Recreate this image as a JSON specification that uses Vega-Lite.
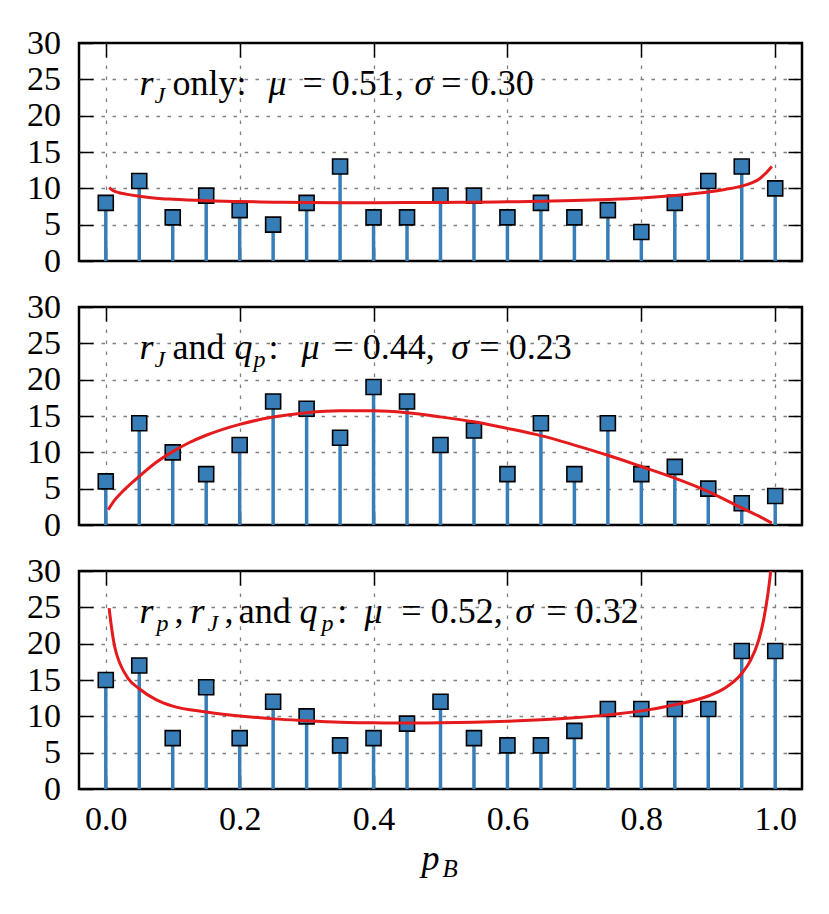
{
  "$schema": "https://vega.github.io/schema/vega-lite/v6.json",
  "background": "white",
  "padding": {"left": 25, "top": 24, "right": 5, "bottom": 5},
  "bounds": "flush",
  "spacing": 46,
  "datasets": {
    "s1": [
      {"pB": 0.0, "n": 8}, {"pB": 0.05, "n": 11}, {"pB": 0.1, "n": 6}, {"pB": 0.15, "n": 9},
      {"pB": 0.2, "n": 7}, {"pB": 0.25, "n": 5}, {"pB": 0.3, "n": 8}, {"pB": 0.35, "n": 13},
      {"pB": 0.4, "n": 6}, {"pB": 0.45, "n": 6}, {"pB": 0.5, "n": 9}, {"pB": 0.55, "n": 9},
      {"pB": 0.6, "n": 6}, {"pB": 0.65, "n": 8}, {"pB": 0.7, "n": 6}, {"pB": 0.75, "n": 7},
      {"pB": 0.8, "n": 4}, {"pB": 0.85, "n": 8}, {"pB": 0.9, "n": 11}, {"pB": 0.95, "n": 13},
      {"pB": 1.0, "n": 10}
    ],
    "s2": [
      {"pB": 0.0, "n": 6}, {"pB": 0.05, "n": 14}, {"pB": 0.1, "n": 10}, {"pB": 0.15, "n": 7},
      {"pB": 0.2, "n": 11}, {"pB": 0.25, "n": 17}, {"pB": 0.3, "n": 16}, {"pB": 0.35, "n": 12},
      {"pB": 0.4, "n": 19}, {"pB": 0.45, "n": 17}, {"pB": 0.5, "n": 11}, {"pB": 0.55, "n": 13},
      {"pB": 0.6, "n": 7}, {"pB": 0.65, "n": 14}, {"pB": 0.7, "n": 7}, {"pB": 0.75, "n": 14},
      {"pB": 0.8, "n": 7}, {"pB": 0.85, "n": 8}, {"pB": 0.9, "n": 5}, {"pB": 0.95, "n": 3},
      {"pB": 1.0, "n": 4}
    ],
    "s3": [
      {"pB": 0.0, "n": 15}, {"pB": 0.05, "n": 17}, {"pB": 0.1, "n": 7}, {"pB": 0.15, "n": 14},
      {"pB": 0.2, "n": 7}, {"pB": 0.25, "n": 12}, {"pB": 0.3, "n": 10}, {"pB": 0.35, "n": 6},
      {"pB": 0.4, "n": 7}, {"pB": 0.45, "n": 9}, {"pB": 0.5, "n": 12}, {"pB": 0.55, "n": 7},
      {"pB": 0.6, "n": 6}, {"pB": 0.65, "n": 6}, {"pB": 0.7, "n": 8}, {"pB": 0.75, "n": 11},
      {"pB": 0.8, "n": 11}, {"pB": 0.85, "n": 11}, {"pB": 0.9, "n": 11}, {"pB": 0.95, "n": 19},
      {"pB": 1.0, "n": 19}
    ],
    "c1": [
      {"pB": 0.005, "d": 10.1}, {"pB": 0.01, "d": 9.75}, {"pB": 0.02, "d": 9.4}, {"pB": 0.03, "d": 9.2},
      {"pB": 0.05, "d": 8.9}, {"pB": 0.075, "d": 8.65}, {"pB": 0.1, "d": 8.5}, {"pB": 0.15, "d": 8.3},
      {"pB": 0.2, "d": 8.18}, {"pB": 0.25, "d": 8.1}, {"pB": 0.3, "d": 8.05}, {"pB": 0.35, "d": 8.03},
      {"pB": 0.4, "d": 8.03}, {"pB": 0.45, "d": 8.04}, {"pB": 0.5, "d": 8.06}, {"pB": 0.55, "d": 8.1},
      {"pB": 0.6, "d": 8.15}, {"pB": 0.65, "d": 8.22}, {"pB": 0.7, "d": 8.32}, {"pB": 0.75, "d": 8.47},
      {"pB": 0.8, "d": 8.68}, {"pB": 0.85, "d": 9.02}, {"pB": 0.9, "d": 9.5}, {"pB": 0.925, "d": 9.85},
      {"pB": 0.95, "d": 10.3}, {"pB": 0.965, "d": 10.75}, {"pB": 0.975, "d": 11.2}, {"pB": 0.985, "d": 12.0},
      {"pB": 0.99, "d": 12.5}, {"pB": 0.995, "d": 13.0}
    ],
    "c2": [
      {"pB": 0.0036, "d": 2.1}, {"pB": 0.0135, "d": 3.45}, {"pB": 0.025, "d": 4.6}, {"pB": 0.05, "d": 6.7},
      {"pB": 0.075, "d": 8.6}, {"pB": 0.1, "d": 10.1}, {"pB": 0.125, "d": 11.35}, {"pB": 0.15, "d": 12.35},
      {"pB": 0.2, "d": 13.85}, {"pB": 0.25, "d": 14.85}, {"pB": 0.3, "d": 15.45}, {"pB": 0.35, "d": 15.72},
      {"pB": 0.4, "d": 15.72}, {"pB": 0.45, "d": 15.45}, {"pB": 0.5, "d": 14.88}, {"pB": 0.55, "d": 14.2},
      {"pB": 0.6, "d": 13.3}, {"pB": 0.65, "d": 12.3}, {"pB": 0.7, "d": 11.0}, {"pB": 0.75, "d": 9.6},
      {"pB": 0.8, "d": 8.05}, {"pB": 0.85, "d": 6.45}, {"pB": 0.9, "d": 4.6}, {"pB": 0.95, "d": 2.35},
      {"pB": 0.975, "d": 1.25}, {"pB": 0.995, "d": 0.25}
    ],
    "c3": [
      {"pB": 0.005, "d": 24.9}, {"pB": 0.0085, "d": 22.3}, {"pB": 0.0135, "d": 19.5}, {"pB": 0.021, "d": 17.3},
      {"pB": 0.0335, "d": 15.2}, {"pB": 0.05, "d": 13.8}, {"pB": 0.075, "d": 12.3}, {"pB": 0.1, "d": 11.4},
      {"pB": 0.15, "d": 10.6}, {"pB": 0.2, "d": 10.05}, {"pB": 0.25, "d": 9.65}, {"pB": 0.3, "d": 9.4},
      {"pB": 0.35, "d": 9.2}, {"pB": 0.4, "d": 9.1}, {"pB": 0.45, "d": 9.08}, {"pB": 0.5, "d": 9.1},
      {"pB": 0.55, "d": 9.18}, {"pB": 0.6, "d": 9.32}, {"pB": 0.65, "d": 9.52}, {"pB": 0.7, "d": 9.8},
      {"pB": 0.75, "d": 10.2}, {"pB": 0.8, "d": 10.75}, {"pB": 0.85, "d": 11.6}, {"pB": 0.9, "d": 12.8},
      {"pB": 0.925, "d": 13.9}, {"pB": 0.95, "d": 15.9}, {"pB": 0.9625, "d": 17.6}, {"pB": 0.975, "d": 20.4},
      {"pB": 0.9825, "d": 23.2}, {"pB": 0.989, "d": 26.8}, {"pB": 0.993, "d": 29.8}, {"pB": 0.996, "d": 33}
    ]
  },
  "vconcat": [
    {
      "width": 723,
      "height": 218,
      "layer": [
        {
          "data": {"name": "s1"},
          "mark": {"type": "rule", "color": "#377eb8", "strokeWidth": 3.5},
          "encoding": {
            "x": {"field": "pB", "type": "quantitative", "scale": {"domain": [-0.04, 1.04], "nice": false, "zero": false},
                  "axis": {"orient": "bottom", "values": [0, 0.2, 0.4, 0.6, 0.8, 1], "labels": false, "title": null, "grid": true}},
            "y": {"field": "n", "type": "quantitative", "scale": {"domain": [0, 30], "nice": false},
                  "axis": {"orient": "left", "values": [0, 5, 10, 15, 20, 25, 30], "title": null, "grid": true,
                           "gridOpacity": {"condition": {"test": "datum.value == 0 || datum.value == 30", "value": 0}, "value": 1}}},
            "y2": {"datum": 0}
          }
        },
        {
          "data": {"name": "s1"},
          "mark": {"type": "point", "shape": "square", "size": 225, "filled": true, "color": "#377eb8", "stroke": "black", "strokeWidth": 1.6, "opacity": 1},
          "encoding": {
            "x": {"field": "pB", "type": "quantitative", "axis": null},
            "y": {"field": "n", "type": "quantitative", "axis": null}
          }
        },
        {
          "data": {"name": "c1"},
          "mark": {"type": "line", "color": "#e41a1c", "strokeWidth": 3, "interpolate": "monotone", "clip": true},
          "encoding": {
            "x": {"field": "pB", "type": "quantitative", "axis": {"orient": "top", "values": [0, 0.2, 0.4, 0.6, 0.8, 1], "labels": false, "title": null, "grid": false}},
            "y": {"field": "d", "type": "quantitative", "axis": {"orient": "right", "values": [0, 5, 10, 15, 20, 25, 30], "labels": false, "title": null, "grid": false}}
          }
        },
        {"data": {"values": [{}]}, "mark": {"type": "text", "style": "it"}, "encoding": {"x": {"datum": 0.0503, "axis": null}, "y": {"datum": 22.8, "axis": null}, "text": {"value": "r"}}},
        {"data": {"values": [{}]}, "mark": {"type": "text", "style": "sub"}, "encoding": {"x": {"datum": 0.0727, "axis": null}, "y": {"datum": 21.8, "axis": null}, "text": {"value": "J"}}},
        {"data": {"values": [{}]}, "mark": {"type": "text", "style": "rm"}, "encoding": {"x": {"datum": 0.0996, "axis": null}, "y": {"datum": 22.8, "axis": null}, "text": {"value": "only:"}}},
        {"data": {"values": [{}]}, "mark": {"type": "text", "style": "it"}, "encoding": {"x": {"datum": 0.2429, "axis": null}, "y": {"datum": 22.8, "axis": null}, "text": {"value": "μ"}}},
        {"data": {"values": [{}]}, "mark": {"type": "text", "style": "rm"}, "encoding": {"x": {"datum": 0.2937, "axis": null}, "y": {"datum": 22.8, "axis": null}, "text": {"value": "= 0.51,"}}},
        {"data": {"values": [{}]}, "mark": {"type": "text", "style": "it"}, "encoding": {"x": {"datum": 0.461, "axis": null}, "y": {"datum": 22.8, "axis": null}, "text": {"value": "σ"}}},
        {"data": {"values": [{}]}, "mark": {"type": "text", "style": "rm"}, "encoding": {"x": {"datum": 0.5013, "axis": null}, "y": {"datum": 22.8, "axis": null}, "text": {"value": "= 0.30"}}}
      ]
    },
    {
      "width": 723,
      "height": 218,
      "layer": [
        {
          "data": {"name": "s2"},
          "mark": {"type": "rule", "color": "#377eb8", "strokeWidth": 3.5},
          "encoding": {
            "x": {"field": "pB", "type": "quantitative", "scale": {"domain": [-0.04, 1.04], "nice": false, "zero": false},
                  "axis": {"orient": "bottom", "values": [0, 0.2, 0.4, 0.6, 0.8, 1], "labels": false, "title": null, "grid": true}},
            "y": {"field": "n", "type": "quantitative", "scale": {"domain": [0, 30], "nice": false},
                  "axis": {"orient": "left", "values": [0, 5, 10, 15, 20, 25, 30], "title": null, "grid": true,
                           "gridOpacity": {"condition": {"test": "datum.value == 0 || datum.value == 30", "value": 0}, "value": 1}}},
            "y2": {"datum": 0}
          }
        },
        {
          "data": {"name": "s2"},
          "mark": {"type": "point", "shape": "square", "size": 225, "filled": true, "color": "#377eb8", "stroke": "black", "strokeWidth": 1.6, "opacity": 1},
          "encoding": {
            "x": {"field": "pB", "type": "quantitative", "axis": null},
            "y": {"field": "n", "type": "quantitative", "axis": null}
          }
        },
        {
          "data": {"name": "c2"},
          "mark": {"type": "line", "color": "#e41a1c", "strokeWidth": 3, "interpolate": "monotone", "clip": true},
          "encoding": {
            "x": {"field": "pB", "type": "quantitative", "axis": {"orient": "top", "values": [0, 0.2, 0.4, 0.6, 0.8, 1], "labels": false, "title": null, "grid": false}},
            "y": {"field": "d", "type": "quantitative", "axis": {"orient": "right", "values": [0, 5, 10, 15, 20, 25, 30], "labels": false, "title": null, "grid": false}}
          }
        },
        {"data": {"values": [{}]}, "mark": {"type": "text", "style": "it"}, "encoding": {"x": {"datum": 0.0503, "axis": null}, "y": {"datum": 22.8, "axis": null}, "text": {"value": "r"}}},
        {"data": {"values": [{}]}, "mark": {"type": "text", "style": "sub"}, "encoding": {"x": {"datum": 0.0727, "axis": null}, "y": {"datum": 21.8, "axis": null}, "text": {"value": "J"}}},
        {"data": {"values": [{}]}, "mark": {"type": "text", "style": "rm"}, "encoding": {"x": {"datum": 0.0996, "axis": null}, "y": {"datum": 22.8, "axis": null}, "text": {"value": "and"}}},
        {"data": {"values": [{}]}, "mark": {"type": "text", "style": "it"}, "encoding": {"x": {"datum": 0.1922, "axis": null}, "y": {"datum": 22.8, "axis": null}, "text": {"value": "q"}}},
        {"data": {"values": [{}]}, "mark": {"type": "text", "style": "sub"}, "encoding": {"x": {"datum": 0.2205, "axis": null}, "y": {"datum": 21.8, "axis": null}, "text": {"value": "p"}}},
        {"data": {"values": [{}]}, "mark": {"type": "text", "style": "rm"}, "encoding": {"x": {"datum": 0.2429, "axis": null}, "y": {"datum": 22.8, "axis": null}, "text": {"value": ":"}}},
        {"data": {"values": [{}]}, "mark": {"type": "text", "style": "it"}, "encoding": {"x": {"datum": 0.2922, "axis": null}, "y": {"datum": 22.8, "axis": null}, "text": {"value": "μ"}}},
        {"data": {"values": [{}]}, "mark": {"type": "text", "style": "rm"}, "encoding": {"x": {"datum": 0.34, "axis": null}, "y": {"datum": 22.8, "axis": null}, "text": {"value": "= 0.44,"}}},
        {"data": {"values": [{}]}, "mark": {"type": "text", "style": "it"}, "encoding": {"x": {"datum": 0.5162, "axis": null}, "y": {"datum": 22.8, "axis": null}, "text": {"value": "σ"}}},
        {"data": {"values": [{}]}, "mark": {"type": "text", "style": "rm"}, "encoding": {"x": {"datum": 0.558, "axis": null}, "y": {"datum": 22.8, "axis": null}, "text": {"value": "= 0.23"}}}
      ]
    },
    {
      "width": 723,
      "height": 218,
      "layer": [
        {
          "data": {"name": "s3"},
          "mark": {"type": "rule", "color": "#377eb8", "strokeWidth": 3.5},
          "encoding": {
            "x": {"field": "pB", "type": "quantitative", "scale": {"domain": [-0.04, 1.04], "nice": false, "zero": false},
                  "axis": {"orient": "bottom", "values": [0, 0.2, 0.4, 0.6, 0.8, 1], "format": ".1f", "title": null, "grid": true}},
            "y": {"field": "n", "type": "quantitative", "scale": {"domain": [0, 30], "nice": false},
                  "axis": {"orient": "left", "values": [0, 5, 10, 15, 20, 25, 30], "title": null, "grid": true,
                           "gridOpacity": {"condition": {"test": "datum.value == 0 || datum.value == 30", "value": 0}, "value": 1}}},
            "y2": {"datum": 0}
          }
        },
        {
          "data": {"name": "s3"},
          "mark": {"type": "point", "shape": "square", "size": 225, "filled": true, "color": "#377eb8", "stroke": "black", "strokeWidth": 1.6, "opacity": 1},
          "encoding": {
            "x": {"field": "pB", "type": "quantitative", "axis": null},
            "y": {"field": "n", "type": "quantitative", "axis": null}
          }
        },
        {
          "data": {"name": "c3"},
          "mark": {"type": "line", "color": "#e41a1c", "strokeWidth": 3, "interpolate": "monotone", "clip": true},
          "encoding": {
            "x": {"field": "pB", "type": "quantitative", "axis": {"orient": "top", "values": [0, 0.2, 0.4, 0.6, 0.8, 1], "labels": false, "title": null, "grid": false}},
            "y": {"field": "d", "type": "quantitative", "axis": {"orient": "right", "values": [0, 5, 10, 15, 20, 25, 30], "labels": false, "title": null, "grid": false}}
          }
        },
        {"data": {"values": [{}]}, "mark": {"type": "text", "style": "it"}, "encoding": {"x": {"datum": 0.0503, "axis": null}, "y": {"datum": 22.8, "axis": null}, "text": {"value": "r"}}},
        {"data": {"values": [{}]}, "mark": {"type": "text", "style": "sub"}, "encoding": {"x": {"datum": 0.0757, "axis": null}, "y": {"datum": 21.8, "axis": null}, "text": {"value": "p"}}},
        {"data": {"values": [{}]}, "mark": {"type": "text", "style": "rm"}, "encoding": {"x": {"datum": 0.1026, "axis": null}, "y": {"datum": 22.8, "axis": null}, "text": {"value": ","}}},
        {"data": {"values": [{}]}, "mark": {"type": "text", "style": "it"}, "encoding": {"x": {"datum": 0.1265, "axis": null}, "y": {"datum": 22.8, "axis": null}, "text": {"value": "r"}}},
        {"data": {"values": [{}]}, "mark": {"type": "text", "style": "sub"}, "encoding": {"x": {"datum": 0.1519, "axis": null}, "y": {"datum": 21.8, "axis": null}, "text": {"value": "J"}}},
        {"data": {"values": [{}]}, "mark": {"type": "text", "style": "rm"}, "encoding": {"x": {"datum": 0.1773, "axis": null}, "y": {"datum": 22.8, "axis": null}, "text": {"value": ","}}},
        {"data": {"values": [{}]}, "mark": {"type": "text", "style": "rm"}, "encoding": {"x": {"datum": 0.1987, "axis": null}, "y": {"datum": 22.8, "axis": null}, "text": {"value": "and"}}},
        {"data": {"values": [{}]}, "mark": {"type": "text", "style": "it"}, "encoding": {"x": {"datum": 0.2892, "axis": null}, "y": {"datum": 22.8, "axis": null}, "text": {"value": "q"}}},
        {"data": {"values": [{}]}, "mark": {"type": "text", "style": "sub"}, "encoding": {"x": {"datum": 0.3221, "axis": null}, "y": {"datum": 21.8, "axis": null}, "text": {"value": "p"}}},
        {"data": {"values": [{}]}, "mark": {"type": "text", "style": "rm"}, "encoding": {"x": {"datum": 0.3459, "axis": null}, "y": {"datum": 22.8, "axis": null}, "text": {"value": ":"}}},
        {"data": {"values": [{}]}, "mark": {"type": "text", "style": "it"}, "encoding": {"x": {"datum": 0.3863, "axis": null}, "y": {"datum": 22.8, "axis": null}, "text": {"value": "μ"}}},
        {"data": {"values": [{}]}, "mark": {"type": "text", "style": "rm"}, "encoding": {"x": {"datum": 0.4415, "axis": null}, "y": {"datum": 22.8, "axis": null}, "text": {"value": "= 0.52,"}}},
        {"data": {"values": [{}]}, "mark": {"type": "text", "style": "it"}, "encoding": {"x": {"datum": 0.6118, "axis": null}, "y": {"datum": 22.8, "axis": null}, "text": {"value": "σ"}}},
        {"data": {"values": [{}]}, "mark": {"type": "text", "style": "rm"}, "encoding": {"x": {"datum": 0.6581, "axis": null}, "y": {"datum": 22.8, "axis": null}, "text": {"value": "= 0.32"}}},
        {"data": {"values": [{}]}, "mark": {"type": "text", "style": "xt"}, "encoding": {"x": {"datum": 0.4715, "axis": null}, "y": {"datum": -11.2, "axis": null}, "text": {"value": "p"}}},
        {"data": {"values": [{}]}, "mark": {"type": "text", "style": "xs"}, "encoding": {"x": {"datum": 0.503, "axis": null}, "y": {"datum": -12.1, "axis": null}, "text": {"value": "B"}}}
      ]
    }
  ],
  "config": {
    "view": {"stroke": "black", "strokeWidth": 2.5},
    "axis": {
      "domain": false,
      "labelFont": "Liberation Serif",
      "labelFontSize": 34,
      "labelColor": "black",
      "tickColor": "black",
      "tickWidth": 1.5,
      "tickSize": -14,
      "gridColor": "#808080",
      "gridDash": [3.5, 7.5],
      "gridWidth": 1.3
    },
    "axisLeft": {"labelPadding": 32.5},
    "axisBottom": {"labelPadding": 27},
    "style": {
      "it": {"font": "Liberation Serif", "fontSize": 36, "fontStyle": "italic", "align": "left", "baseline": "alphabetic", "fill": "black"},
      "sub": {"font": "Liberation Serif", "fontSize": 24, "fontStyle": "italic", "align": "left", "baseline": "alphabetic", "fill": "black"},
      "rm": {"font": "Liberation Serif", "fontSize": 36, "fontStyle": "normal", "align": "left", "baseline": "alphabetic", "fill": "black"},
      "xt": {"font": "Liberation Serif", "fontSize": 36, "fontStyle": "italic", "align": "left", "baseline": "alphabetic", "fill": "black"},
      "xs": {"font": "Liberation Serif", "fontSize": 25, "fontStyle": "italic", "align": "left", "baseline": "alphabetic", "fill": "black"}
    }
  }
}
